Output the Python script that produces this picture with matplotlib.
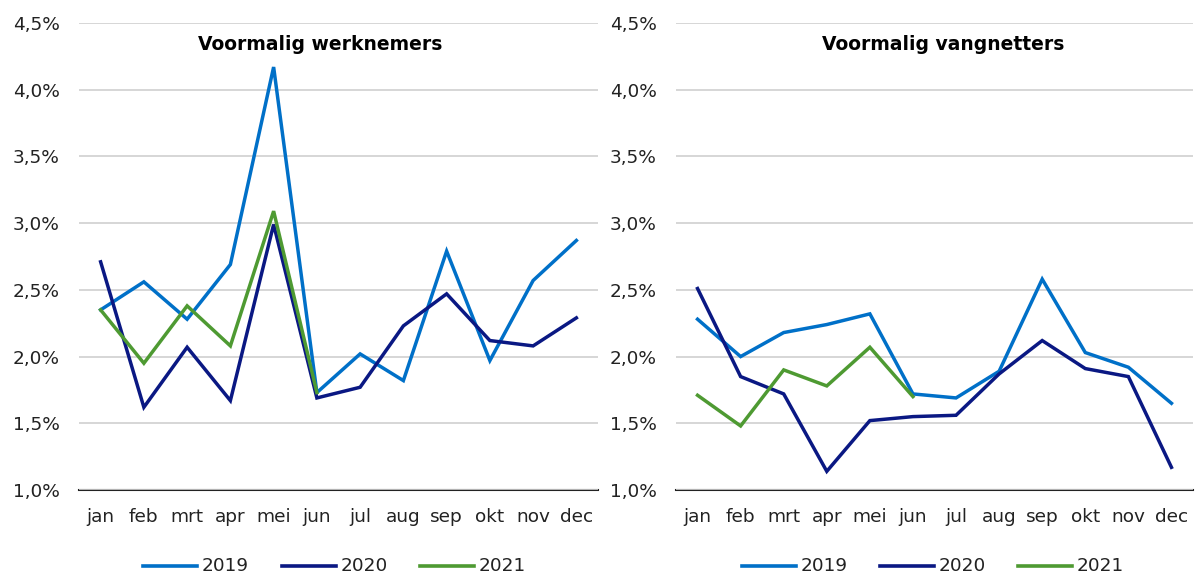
import matplotlib
matplotlib.use("Agg")
import matplotlib.pyplot as plt
from matplotlib.ticker import FuncFormatter

months = ["jan", "feb", "mrt", "apr", "mei", "jun", "jul", "aug", "sep", "okt", "nov", "dec"]
years = ["2019", "2020", "2021"]

werk_2019 = [2.35, 2.56, 2.28, 2.69, 4.17, 1.73, 2.02, 1.82, 2.79, 1.97, 2.57, 2.87]
werk_2020 = [2.71, 1.62, 2.07, 1.67, 2.99, 1.69, 1.77, 2.23, 2.47, 2.12, 2.08, 2.29]
werk_2021 = [2.35, 1.95, 2.38, 2.08, 3.09, 1.73]

vang_2019 = [2.28, 2.00, 2.18, 2.24, 2.32, 1.72, 1.69, 1.89, 2.58, 2.03, 1.92, 1.65]
vang_2020 = [2.51, 1.85, 1.72, 1.14, 1.52, 1.55, 1.56, 1.87, 2.12, 1.91, 1.85, 1.17]
vang_2021 = [1.71, 1.48, 1.90, 1.78, 2.07, 1.70]

titles = ["Voormalig werknemers", "Voormalig vangnetters"]
colors = ["#0070C8", "#0A1883", "#4E9A32"]

fig = plt.figure(figsize=(11.95, 5.73), dpi=100)
W, H = 1195, 573
panels = [
    (79, 598, titles[0], [werk_2019, werk_2020, werk_2021], 320, [143, 282, 420]),
    (676, 1193, titles[1], [vang_2019, vang_2020, vang_2021], 943, [742, 880, 1018]),
]
top, bottom = 23, 490
fs = 13.3

for left, right, title, series, tcx, legx in panels:
    ax = fig.add_axes([left / W, 1 - bottom / H, (right - left) / W, (bottom - top) / H])
    x = list(range(len(months)))
    for s, c in zip(series, colors):
        ax.plot(x[:len(s)], s, color=c, lw=2.5, solid_joinstyle="miter")
    ax.set_xlim(-0.5, 11.5)
    ax.set_ylim(1.0, 4.5)
    ax.set_yticks([1.0, 1.5, 2.0, 2.5, 3.0, 3.5, 4.0, 4.5])
    ax.yaxis.set_major_formatter(FuncFormatter(lambda v, p: f"{v:.1f}%".replace(".", ",")))
    ax.set_xticks(x)
    ax.set_xticklabels(months)
    ax.tick_params(axis="both", length=0, labelsize=fs, colors="#222222")
    ax.tick_params(axis="x", pad=13)
    ax.tick_params(axis="y", pad=14)
    ax.grid(axis="y", color="#D0D0D0", lw=1.2)
    ax.set_axisbelow(True)
    for sp in ["top", "right", "left"]:
        ax.spines[sp].set_visible(False)
    ax.spines["bottom"].set_color("#222222")
    ax.spines["bottom"].set_linewidth(1.5)
    ax.spines["bottom"].set_zorder(0.5)
    fig.text(tcx / W, 1 - 45 / H, title, ha="center", va="center", fontsize=13.5, fontweight="bold")
    # legend
    for lx, c, yr in zip(legx, colors, years):
        fig.add_artist(plt.Line2D([lx / W, (lx + 54) / W], [1 - 566 / H] * 2, color=c, lw=2.6))
        fig.text((lx + 59) / W, 1 - 566 / H, yr, ha="left", va="center", fontsize=fs, color="#222222")

fig.savefig("out.png", dpi=100)
